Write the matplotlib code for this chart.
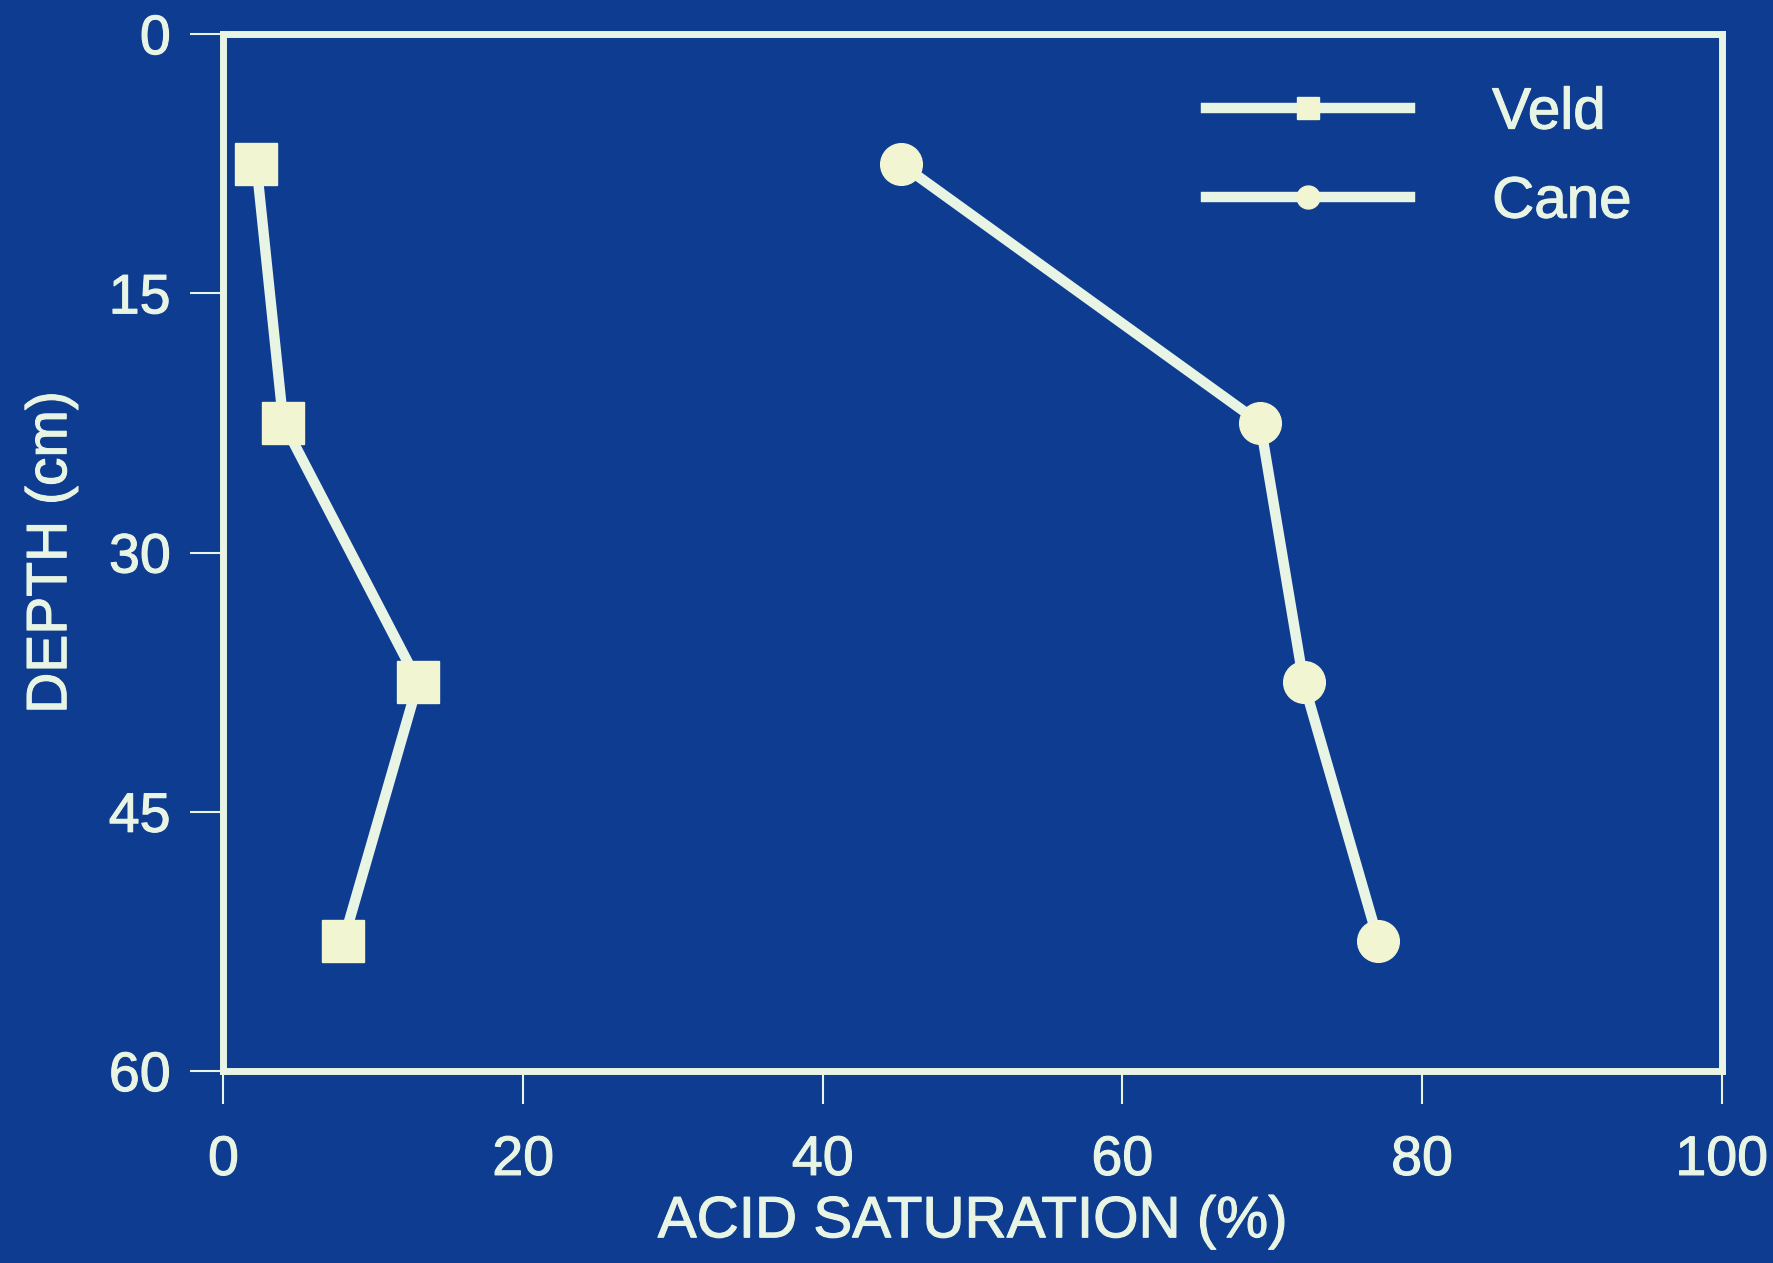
import matplotlib
matplotlib.use('Agg')
import matplotlib.pyplot as plt
import matplotlib.patheffects as pe

# Datos
profundidad = [7.5, 22.5, 37.5, 52.5]
veld = [2.2, 4.0, 13.0, 8.0]
cane = [45.2, 69.2, 72.1, 77.1]

fondo = '#0e3c90'
claro = '#e8f4e4'

plt.rcParams['font.family'] = ['Liberation Sans', 'DejaVu Sans']
grueso = [pe.withStroke(linewidth=0.8, foreground=claro)]

fig = plt.figure(figsize=(17.73, 12.63), dpi=100, facecolor=fondo)
ax = fig.add_axes([0.126, 0.152, 0.845, 0.821], facecolor=fondo)

ax.plot(veld, profundidad, color=claro, lw=7.5, marker='s', ms=30,
        mfc='#f2f5d2', mec='#f2f5d2', label='Veld')
ax.plot(cane, profundidad, color=claro, lw=7.5, marker='o', ms=30,
        mfc='#f2f5d2', mec='#f2f5d2', label='Cane')

ax.set_xlim(0, 100)
ax.set_ylim(60, 0)
ax.set_xticks([0, 20, 40, 60, 80, 100])
ax.set_yticks([0, 15, 30, 45, 60])

for s in ax.spines.values():
    s.set_color(claro)
    s.set_linewidth(5)

ax.tick_params(colors=claro, labelsize=40, width=1.5, length=24, direction='out')
ax.tick_params(axis='x', pad=22)
ax.tick_params(axis='y', pad=14)
for t in ax.get_xticklabels() + ax.get_yticklabels():
    t.set_path_effects(grueso)
ax.set_xlabel('ACID SATURATION (%)', color=claro, fontsize=42, labelpad=6,
              path_effects=grueso)
ax.set_ylabel('DEPTH (cm)', color=claro, fontsize=41, labelpad=22,
              path_effects=grueso)

leg = ax.legend(loc='upper right', frameon=False, fontsize=42, markerscale=0.55,
                handlelength=3.5, handletextpad=1.4, labelspacing=0.6,
                bbox_to_anchor=(0.975, 1.0))
for t in leg.get_texts():
    t.set_color(claro)
    t.set_path_effects(grueso)

fig.savefig('out.png', dpi=100, facecolor=fondo)
